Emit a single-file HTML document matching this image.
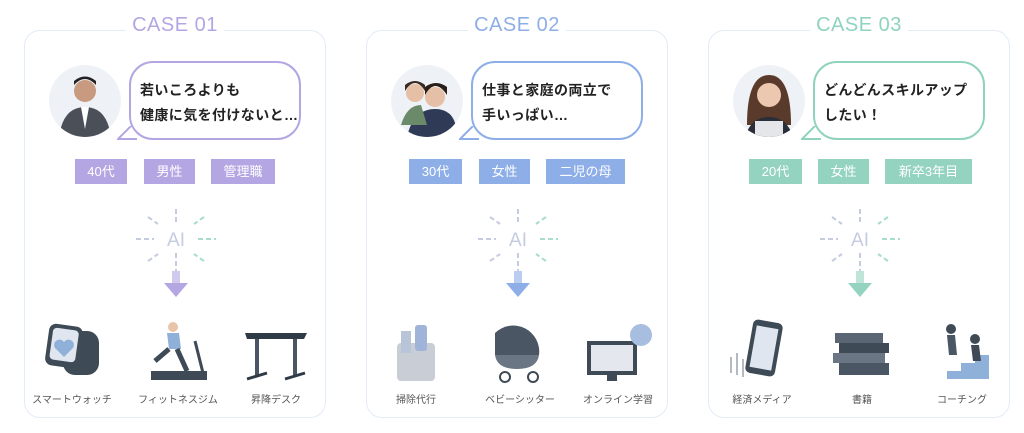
<!DOCTYPE html>
<html><head><meta charset="utf-8"><style>
body{margin:0;width:1024px;height:433px;background:#fff;position:relative;overflow:hidden;font-family:"Liberation Sans","Noto Sans CJK JP",sans-serif}
.card{position:absolute;top:30px;width:302px;height:388px;border:1px solid #e3ebf7;border-radius:16px;box-sizing:border-box}
.ttl{position:absolute;top:-17px;left:0;width:100%;text-align:center}
.ttl span{background:#fff;padding:0 6px;font-size:20px;font-weight:normal;letter-spacing:0.5px}
.av{position:absolute;left:24px;top:34px;width:72px;height:72px;border-radius:50%;background:#eef1f6;overflow:hidden}
.bub{position:absolute;left:104px;top:30px;width:172px;height:79px;border:2px solid;border-radius:24px;box-sizing:border-box;background:#fff}
.bub p{margin:0;position:absolute;left:9px;top:15px;font-size:14px;font-weight:bold;line-height:25px;letter-spacing:0.4px;color:#222;white-space:nowrap}
.tail{position:absolute;left:92px;top:95px}
.tag{position:absolute;top:128px;height:25px;line-height:25px;color:#fff;font-size:13px;text-align:center}
.ai{position:absolute;left:111px;top:178px}
.lab{position:absolute;top:360px;font-size:10px;color:#555;width:90px;text-align:center}
</style></head><body>

<!-- CARD 1 -->
<div class="card" style="left:24px">
 <div class="ttl"><span style="color:#b3a6e2">CASE 01</span></div>
 <div class="av"><svg width="72" height="72"><circle cx="36" cy="26" r="11" fill="#c89a80"/><path d="M25 20q11-12 22 0v-4q-11-9-22 0z" fill="#222"/><path d="M10 72q4-30 26-30t26 30z" fill="#4a4f58"/><path d="M32 42l4 22 4-22z" fill="#fff"/></svg></div>
 <div class="bub" style="border-color:#b3a6e2"><p>若いころよりも<br>健康に気を付けないと…</p></div>
 <svg class="tail" width="20" height="16"><path d="M14 0 L1 13 L20 13" fill="#fff" stroke="#b3a6e2" stroke-width="2"/></svg>
 <div class="tag" style="left:50px;width:52px;background:#b3a6e2">40代</div>
 <div class="tag" style="left:119px;width:51px;background:#b3a6e2">男性</div>
 <div class="tag" style="left:186px;width:64px;background:#b3a6e2">管理職</div>
 <svg class="ai" width="80" height="100"><g stroke-width="2" stroke-dasharray="5 3"><line x1="40" y1="0" x2="40" y2="16" stroke="#c5cbe0"/><line x1="0" y1="30" x2="18" y2="30" stroke="#c5cbe0"/><line x1="62" y1="30" x2="80" y2="30" stroke="#a8dccc"/><line x1="40" y1="44" x2="40" y2="62" stroke="#c5cbe0"/><line x1="12" y1="8" x2="22" y2="15" stroke="#c5cbe0"/><line x1="68" y1="8" x2="58" y2="15" stroke="#a8dccc"/><line x1="12" y1="52" x2="22" y2="45" stroke="#c5cbe0"/><line x1="68" y1="52" x2="58" y2="45" stroke="#a8dccc"/></g><text x="40" y="37" text-anchor="middle" font-size="19" fill="#c5cbe0" font-family="Liberation Sans">AI</text><rect x="36" y="62" width="8" height="14" fill="#b3a6e2" opacity=".6"/><path d="M28 74h24l-12 14z" fill="#b3a6e2"/></svg>
 <svg style="position:absolute;left:18px;top:290px" width="62" height="62"><rect x="20" y="10" width="36" height="44" rx="12" fill="#3e4a56"/><rect x="4" y="4" width="34" height="42" rx="7" fill="#3e4a56" transform="rotate(8 21 25)"/><rect x="8" y="8" width="26" height="32" rx="4" fill="#dfe6ef" transform="rotate(8 21 25)"/><path d="M21 36l-9-9a5 5 0 0 1 9-6a5 5 0 0 1 9 6z" fill="#8fb0d8"/></svg>
 <svg style="position:absolute;left:122px;top:290px" width="64" height="62"><rect x="4" y="50" width="56" height="9" fill="#3e4a56"/><line x1="48" y1="20" x2="56" y2="52" stroke="#3e4a56" stroke-width="3"/><circle cx="26" cy="6" r="5" fill="#e8c4a8"/><path d="M20 12h12l2 16h-12z" fill="#8fb0d8"/><path d="M22 28l-14 12M30 28l10 22" stroke="#3e4a56" stroke-width="5"/></svg>
 <svg style="position:absolute;left:218px;top:300px" width="66" height="52"><path d="M2 2h62l-3 6h-57z" fill="#2e3a46"/><path d="M14 8v38M52 8v38" stroke="#4a5664" stroke-width="4"/><path d="M4 48l20-6M42 48l20-6" stroke="#2e3a46" stroke-width="3"/></svg>
 <div class="lab" style="left:2px">スマートウォッチ</div>
 <div class="lab" style="left:108px">フィットネスジム</div>
 <div class="lab" style="left:206px">昇降デスク</div>
</div>

<!-- CARD 2 -->
<div class="card" style="left:366px">
 <div class="ttl"><span style="color:#8eaee8">CASE 02</span></div>
 <div class="av"><svg width="72" height="72"><circle cx="44" cy="32" r="10" fill="#e6c0a6"/><circle cx="24" cy="28" r="9" fill="#e6c0a6"/><path d="M14 26q10-16 20 0v-6q-10-8-20 0z" fill="#3a2a22"/><path d="M34 30q10-18 22 0v-8q-11-8-22 0z" fill="#2a1e18"/><path d="M16 72q6-28 28-28t22 28z" fill="#2e3a56"/><path d="M10 60q6-20 20-20l6 20z" fill="#6a8a6a"/></svg></div>
 <div class="bub" style="border-color:#8eaee8"><p>仕事と家庭の両立で<br>手いっぱい…</p></div>
 <svg class="tail" width="20" height="16"><path d="M14 0 L1 13 L20 13" fill="#fff" stroke="#8eaee8" stroke-width="2"/></svg>
 <div class="tag" style="left:42px;width:53px;background:#8eaee8">30代</div>
 <div class="tag" style="left:112px;width:51px;background:#8eaee8">女性</div>
 <div class="tag" style="left:179px;width:79px;background:#8eaee8">二児の母</div>
 <svg class="ai" width="80" height="100"><g stroke-width="2" stroke-dasharray="5 3"><line x1="40" y1="0" x2="40" y2="16" stroke="#c5cbe0"/><line x1="0" y1="30" x2="18" y2="30" stroke="#c5cbe0"/><line x1="62" y1="30" x2="80" y2="30" stroke="#a8dccc"/><line x1="40" y1="44" x2="40" y2="62" stroke="#c5cbe0"/><line x1="12" y1="8" x2="22" y2="15" stroke="#c5cbe0"/><line x1="68" y1="8" x2="58" y2="15" stroke="#a8dccc"/><line x1="12" y1="52" x2="22" y2="45" stroke="#c5cbe0"/><line x1="68" y1="52" x2="58" y2="45" stroke="#a8dccc"/></g><text x="40" y="37" text-anchor="middle" font-size="19" fill="#c5cbe0" font-family="Liberation Sans">AI</text><rect x="36" y="62" width="8" height="14" fill="#8eaee8" opacity=".6"/><path d="M28 74h24l-12 14z" fill="#8eaee8"/></svg>
 <svg style="position:absolute;left:22px;top:290px" width="52" height="64"><rect x="8" y="22" width="38" height="38" rx="4" fill="#c9ced6"/><rect x="12" y="10" width="10" height="22" fill="#b8c4d8"/><rect x="26" y="4" width="12" height="26" rx="3" fill="#9fb4d8"/></svg>
 <svg style="position:absolute;left:120px;top:292px" width="64" height="62"><path d="M8 10a26 26 0 0 1 44 22h-44z" fill="#4a5664"/><path d="M8 32h44q-2 14-22 14t-22-14z" fill="#6a7684"/><circle cx="18" cy="54" r="5" fill="none" stroke="#3e4a56" stroke-width="2"/><circle cx="46" cy="54" r="5" fill="none" stroke="#3e4a56" stroke-width="2"/></svg>
 <svg style="position:absolute;left:218px;top:292px" width="70" height="60"><rect x="2" y="18" width="50" height="34" fill="#3e4a56"/><rect x="6" y="22" width="42" height="26" fill="#e4e8ee"/><rect x="22" y="52" width="10" height="6" fill="#3e4a56"/><circle cx="56" cy="12" r="11" fill="#a8bee0"/></svg>
 <div class="lab" style="left:4px">掃除代行</div>
 <div class="lab" style="left:108px">ベビーシッター</div>
 <div class="lab" style="left:206px">オンライン学習</div>
</div>

<!-- CARD 3 -->
<div class="card" style="left:708px">
 <div class="ttl"><span style="color:#8fd3bf">CASE 03</span></div>
 <div class="av"><svg width="72" height="72"><path d="M14 60q0-50 22-50t22 50z" fill="#5a3a2a"/><circle cx="36" cy="30" r="12" fill="#ecc8b0"/><path d="M12 72q6-20 24-20t24 20z" fill="#2a2e38"/><rect x="22" y="56" width="28" height="16" fill="#e4e6ea"/></svg></div>
 <div class="bub" style="border-color:#8fd3bf"><p>どんどんスキルアップ<br>したい！</p></div>
 <svg class="tail" width="20" height="16"><path d="M14 0 L1 13 L20 13" fill="#fff" stroke="#8fd3bf" stroke-width="2"/></svg>
 <div class="tag" style="left:40px;width:53px;background:#94d3c0">20代</div>
 <div class="tag" style="left:109px;width:51px;background:#94d3c0">女性</div>
 <div class="tag" style="left:176px;width:87px;background:#94d3c0">新卒3年目</div>
 <svg class="ai" width="80" height="100"><g stroke-width="2" stroke-dasharray="5 3"><line x1="40" y1="0" x2="40" y2="16" stroke="#c5cbe0"/><line x1="0" y1="30" x2="18" y2="30" stroke="#c5cbe0"/><line x1="62" y1="30" x2="80" y2="30" stroke="#a8dccc"/><line x1="40" y1="44" x2="40" y2="62" stroke="#c5cbe0"/><line x1="12" y1="8" x2="22" y2="15" stroke="#c5cbe0"/><line x1="68" y1="8" x2="58" y2="15" stroke="#a8dccc"/><line x1="12" y1="52" x2="22" y2="45" stroke="#c5cbe0"/><line x1="68" y1="52" x2="58" y2="45" stroke="#a8dccc"/></g><text x="40" y="37" text-anchor="middle" font-size="19" fill="#c5cbe0" font-family="Liberation Sans">AI</text><rect x="36" y="62" width="8" height="14" fill="#94d3c0" opacity=".6"/><path d="M28 74h24l-12 14z" fill="#94d3c0"/></svg>
 <svg style="position:absolute;left:18px;top:286px" width="66" height="66"><g stroke="#6a7684" stroke-width="1"><line x1="4" y1="40" x2="4" y2="56"/><line x1="10" y1="36" x2="10" y2="58"/><line x1="16" y1="42" x2="16" y2="60"/></g><rect x="22" y="4" width="30" height="54" rx="5" fill="#3e4a56" transform="rotate(10 37 31)"/><rect x="26" y="10" width="22" height="42" fill="#dfe6ef" transform="rotate(10 37 31)"/></svg>
 <svg style="position:absolute;left:122px;top:296px" width="64" height="56"><rect x="4" y="6" width="48" height="10" fill="#5a6674"/><rect x="8" y="16" width="50" height="10" fill="#3e4a56"/><rect x="2" y="26" width="52" height="10" fill="#6a7684"/><rect x="8" y="36" width="50" height="12" fill="#4a5664"/></svg>
 <svg style="position:absolute;left:222px;top:290px" width="62" height="62"><path d="M2 58h14v-8h14v-8h14v-8h14v24z" fill="#8fb0d8"/><circle cx="20" cy="8" r="5" fill="#3e4a56"/><circle cx="44" cy="18" r="5" fill="#3e4a56"/><path d="M16 14h8l2 20h-8z" fill="#4a5664"/><path d="M40 24h8l2 16h-8z" fill="#3e4a56"/></svg>
 <div class="lab" style="left:8px">経済メディア</div>
 <div class="lab" style="left:108px">書籍</div>
 <div class="lab" style="left:208px">コーチング</div>
</div>
</body></html>
